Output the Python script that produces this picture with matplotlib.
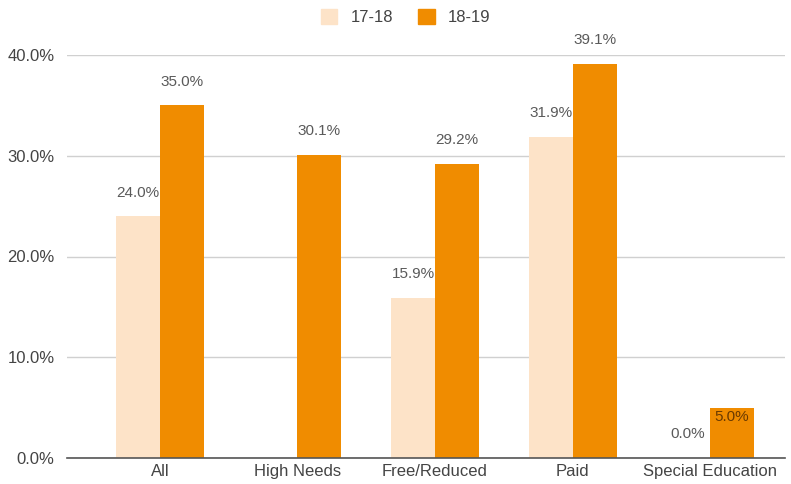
import matplotlib
matplotlib.use("Agg")
import matplotlib.pyplot as plt
import numpy as np

plt.rcParams['font.family'] = ['Liberation Sans', 'DejaVu Sans']

categories = ["All", "High Needs", "Free/Reduced", "Paid", "Special Education"]
series_names = ["17-18", "18-19"]
values_1718 = [24.0, None, 15.9, 31.9, 0.0]
values_1819 = [35.0, 30.1, 29.2, 39.1, 5.0]
yticks = [0, 10, 20, 30, 40]

color_1718 = "#FDE3C8"
color_1819 = "#F08C00"
label_color = "#5a5a5a"
tick_color = "#444444"

fig = plt.figure(figsize=(7.91, 4.84), dpi=100)
ax = fig.add_axes([67 / 791, 1 - 458 / 484, (785 - 67) / 791, (458 - 55) / 484])

x = np.arange(len(categories))
w = 0.32

for i, (v1, v2) in enumerate(zip(values_1718, values_1819)):
    if v1 is not None:
        ax.bar(x[i] - w / 2, v1, width=w, color=color_1718, zorder=3)
        ax.annotate(f"{v1:.1f}%", (x[i] - w / 2, v1), xytext=(0, 12), textcoords="offset points",
                    ha="center", va="bottom", fontsize=11, color=label_color, zorder=4)
    ax.bar(x[i] + w / 2, v2, width=w, color=color_1819, zorder=3)
    if v2 < 8:
        # short bar: value sits inside the top of the bar
        ax.annotate(f"{v2:.1f}%", (x[i] + w / 2, v2), xytext=(0, -2), textcoords="offset points",
                    ha="center", va="top", fontsize=11, color="#6a3a00", zorder=4)
    else:
        ax.annotate(f"{v2:.1f}%", (x[i] + w / 2, v2), xytext=(0, 12), textcoords="offset points",
                    ha="center", va="bottom", fontsize=11, color=label_color, zorder=4)

ax.set_xlim(-0.676, 4.545)
ax.set_ylim(0, 40)
ax.set_yticks(yticks)
ax.set_yticklabels([f"{t:.1f}%" for t in yticks])
ax.set_xticks(x)
ax.set_xticklabels(categories)
ax.tick_params(axis="both", length=0, labelsize=12, colors=tick_color)
ax.tick_params(axis="y", pad=9)
ax.tick_params(axis="x", pad=4)
ax.grid(axis="y", color="#d0d0d0", linewidth=1, zorder=0)
for s in ["top", "right", "left"]:
    ax.spines[s].set_visible(False)
ax.spines["bottom"].set_color("#555555")
ax.spines["bottom"].set_linewidth(1.2)
ax.spines["bottom"].set_zorder(5)

handles = [plt.Rectangle((0, 0), 1, 1, color=color_1718),
           plt.Rectangle((0, 0), 1, 1, color=color_1819)]
fig.legend(handles, series_names, loc="upper center", bbox_to_anchor=(0.513, 1.012), ncol=2,
           frameon=False, fontsize=12, handlelength=1.0, handleheight=1.0,
           columnspacing=1.5, handletextpad=0.8, labelcolor=tick_color)

fig.savefig("out.png", dpi=100)
